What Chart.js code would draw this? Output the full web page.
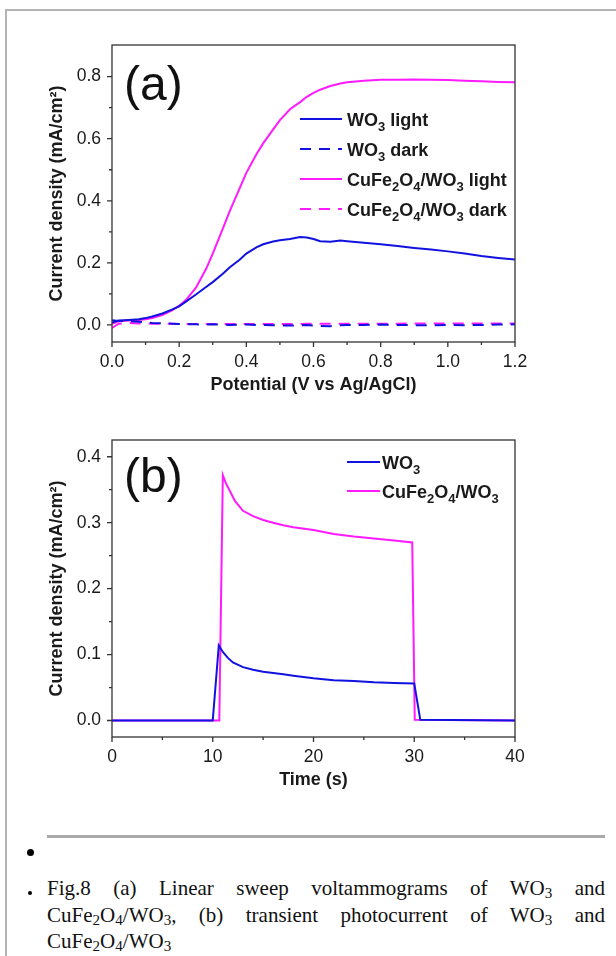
<!DOCTYPE html>
<html>
<head>
<meta charset="utf-8">
<script src="https://cdn.jsdelivr.net/npm/chart.js@4.4.1/dist/chart.umd.min.js"></script>
<style>
html, body { margin: 0; padding: 0; background: #fff; }
body { width: 616px; height: 956px; position: relative; overflow: hidden; }
.frame { position: absolute; left: 5px; top: 9px; width: 700px; height: 1000px;
         border-top: 2px solid #b4b4b4; border-left: 2px solid #b4b4b4; }
#boxA { position: absolute; left: 0; top: 0; }
#boxB { position: absolute; left: 0; top: 410px; }
.rule { position: absolute; left: 47px; top: 835px; width: 558px; height: 3px; background: #a9a9a9; }
.dot { position: absolute; border-radius: 50%; background: #000; }
.cap { position: absolute; left: 47px; width: 558px; top: 875px;
       font-family: "Liberation Serif", "Times New Roman", serif; font-size: 21px; color: #111; }
.cap div { height: 26.5px; line-height: 26.5px; text-align: justify; text-align-last: justify; }
.cap div.last { text-align-last: left; }
.cap sub { font-size: 0.72em; vertical-align: baseline; position: relative; top: 0.22em; }
</style>
</head>
<body>
<div class="frame"></div>
<canvas id="boxA" width="616" height="410"></canvas>
<canvas id="boxB" width="616" height="395"></canvas>
<div class="rule"></div>
<div class="dot" style="left:27px;top:849px;width:7px;height:7px"></div>
<div class="dot" style="left:28px;top:891px;width:4px;height:4px"></div>
<div class="cap">
  <div>Fig.8 (a) Linear sweep voltammograms of WO<sub>3</sub> and</div>
  <div>CuFe<sub>2</sub>O<sub>4</sub>/WO<sub>3</sub>, (b) transient photocurrent of WO<sub>3</sub> and</div>
  <div class="last">CuFe<sub>2</sub>O<sub>4</sub>/WO<sub>3</sub></div>
</div>
<script>
// (a) linear sweep voltammograms
var potential = [0, 0.02, 0.05, 0.08, 0.1, 0.12, 0.15, 0.18, 0.2, 0.22, 0.25, 0.28, 0.3, 0.33, 0.35,
  0.38, 0.4, 0.43, 0.45, 0.48, 0.5, 0.53, 0.56, 0.58, 0.6, 0.62, 0.65, 0.68, 0.7, 0.75, 0.8,
  0.85, 0.9, 0.95, 1.0, 1.05, 1.1, 1.15, 1.2];
var wo3Light = [0.008, 0.014, 0.016, 0.018, 0.022, 0.027, 0.037, 0.05, 0.06, 0.075, 0.098, 0.122, 0.138,
  0.165, 0.185, 0.21, 0.23, 0.25, 0.26, 0.269, 0.273, 0.277, 0.283, 0.282, 0.277, 0.27, 0.268,
  0.272, 0.27, 0.265, 0.26, 0.254, 0.248, 0.243, 0.237, 0.23, 0.222, 0.216, 0.211];
var wo3Dark = [0.015, 0.013, 0.012, 0.01, 0.008, 0.006, 0.005, 0.004, 0.003, 0.002, 0.002, 0.001, 0.002,
  0.001, 0.0, 0.001, 0.001, 0.0, 0.0, -0.001, -0.002, -0.002, -0.001, 0.0, -0.002, -0.003, -0.004,
  -0.001, 0.0, 0.0, 0.001, 0.0, -0.001, -0.001, 0.0, -0.001, 0.0, 0.001, 0.002];
var cuLight = [0.004, 0.012, 0.014, 0.016, 0.018, 0.022, 0.032, 0.048, 0.062, 0.08, 0.12, 0.18, 0.23,
  0.31, 0.365, 0.44, 0.49, 0.55, 0.585, 0.63, 0.66, 0.695, 0.718, 0.735, 0.748, 0.758, 0.77,
  0.778, 0.782, 0.787, 0.79, 0.79, 0.791, 0.79, 0.789, 0.787, 0.785, 0.783, 0.782];
var cuDark = [-0.01, 0.004, 0.006, 0.005, 0.005, 0.004, 0.004, 0.004, 0.003, 0.003, 0.003, 0.003, 0.003,
  0.003, 0.003, 0.003, 0.003, 0.003, 0.003, 0.003, 0.003, 0.003, 0.003, 0.004, 0.004, 0.004, 0.004,
  0.004, 0.004, 0.004, 0.004, 0.004, 0.005, 0.005, 0.005, 0.005, 0.005, 0.005, 0.005];
var ticksAX = [0, 0.2, 0.4, 0.6, 0.8, 1.0, 1.2];
var ticksAY = [0, 0.2, 0.4, 0.6, 0.8];

// (b) transient photocurrent
var timeWO3 = [0, 10, 10.6, 11, 11.5, 12, 13, 14, 15, 16, 17, 18, 20, 22, 24, 26, 28, 30, 30.6, 40];
var currWO3 = [0, 0, 0.114, 0.104, 0.095, 0.088, 0.081, 0.077, 0.074, 0.072, 0.07, 0.068, 0.064,
  0.061, 0.06, 0.058, 0.057, 0.056, 0.001, 0];
var timeCu = [0, 10.65, 11, 11.3, 11.7, 12.2, 13, 14, 15, 16, 17, 18, 20, 22, 24, 26, 28, 29.8, 30.05, 40];
var currCu = [0, 0, 0.372, 0.36, 0.348, 0.333, 0.318, 0.31, 0.304, 0.3, 0.296, 0.293, 0.289, 0.283,
  0.279, 0.276, 0.273, 0.27, 0.001, 0];
var ticksBX = [0, 10, 20, 30, 40];
var ticksBY = [0, 0.1, 0.2, 0.3, 0.4];

var BLUE = '#1212e0';
var MAGENTA = '#ff1aff';
var INK = '#1a1a1a';
var SANS = '"Liberation Sans", Arial, sans-serif';

function pairs(xs, ys) {
  return xs.map(function (x, i) { return { x: x, y: ys[i] }; });
}

function mids(arr) {
  var out = [];
  for (var i = 0; i < arr.length - 1; i++) out.push((arr[i] + arr[i + 1]) / 2);
  return out;
}

var SUBS = '₀₁₂₃₄₅₆₇₈₉';
function drawRich(ctx, text, x, y, size) {
  for (var i = 0; i < text.length; i++) {
    var ch = text[i];
    var k = SUBS.indexOf(ch);
    if (k >= 0) {
      ctx.font = 'bold ' + Math.round(size * 0.72) + 'px ' + SANS;
      ctx.fillText(String(k), x, y + size * 0.3);
      x += ctx.measureText(String(k)).width;
    } else {
      ctx.font = 'bold ' + size + 'px ' + SANS;
      ctx.fillText(ch, x, y);
      x += ctx.measureText(ch).width;
    }
  }
}

// frame box, major + minor ticks, panel letter and legend
var decor = {
  id: 'decor',
  afterDraw: function (chart, args, o) {
    var ctx = chart.ctx, a = chart.chartArea, sx = chart.scales.x, sy = chart.scales.y;
    ctx.save();
    ctx.strokeStyle = '#333';
    ctx.lineWidth = 1.3;
    ctx.strokeRect(a.left, a.top, a.right - a.left, a.bottom - a.top);
    ctx.beginPath();
    o.xMajor.forEach(function (v) { var p = sx.getPixelForValue(v); ctx.moveTo(p, a.bottom); ctx.lineTo(p, a.bottom + 5); });
    mids(o.xMajor).forEach(function (v) { var p = sx.getPixelForValue(v); ctx.moveTo(p, a.bottom); ctx.lineTo(p, a.bottom + 3); });
    o.yMajor.forEach(function (v) { var p = sy.getPixelForValue(v); ctx.moveTo(a.left, p); ctx.lineTo(a.left - 5, p); });
    mids(o.yMajor).forEach(function (v) { var p = sy.getPixelForValue(v); ctx.moveTo(a.left, p); ctx.lineTo(a.left - 3, p); });
    ctx.stroke();

    ctx.fillStyle = '#111';
    ctx.font = '48px ' + SANS;
    ctx.textBaseline = 'alphabetic';
    ctx.textAlign = 'left';
    ctx.fillText(o.letter, o.letterX, o.letterY);

    var lg = o.legend;
    chart.data.datasets.forEach(function (ds, i) {
      var y = lg.y + i * lg.dy;
      ctx.beginPath();
      ctx.strokeStyle = ds.borderColor;
      ctx.lineWidth = 2;
      ctx.setLineDash(ds.borderDash || []);
      ctx.moveTo(lg.x0, y);
      ctx.lineTo(lg.x1, y);
      ctx.stroke();
      ctx.setLineDash([]);
      ctx.fillStyle = INK;
      drawRich(ctx, ds.label, lg.tx, y + 6.5, 18);
    });
    ctx.restore();
  }
};

function axes(xr, yr, xTicks, yTicks, xTitle, xDigits) {
  return {
    x: {
      type: 'linear', min: xr[0], max: xr[1],
      afterBuildTicks: function (s) { s.ticks = xTicks.map(function (v) { return { value: v }; }); },
      afterFit: function (s) { s.height = 68; },
      grid: { display: false, drawTicks: false },
      border: { display: false },
      ticks: { padding: 10, color: INK, font: { family: SANS, size: 17.5 },
               callback: function (v) { return Number(v).toFixed(xDigits); } },
      title: { display: true, text: xTitle, color: INK, padding: { top: 0, bottom: 14 },
               font: { family: SANS, size: 18, weight: 'bold' } }
    },
    y: {
      type: 'linear', min: yr[0], max: yr[1],
      afterBuildTicks: function (s) { s.ticks = yTicks.map(function (v) { return { value: v }; }); },
      afterFit: function (s) { s.width = 112; },
      grid: { display: false, drawTicks: false },
      border: { display: false },
      ticks: { padding: 11, color: INK, font: { family: SANS, size: 17.5 },
               callback: function (v) { return Number(v).toFixed(1); } },
      title: { display: true, text: 'Current density (mA/cm²)', color: INK, padding: { top: 46, bottom: 0 },
               font: { family: SANS, size: 18, weight: 'bold' } }
    }
  };
}

var chartA = new Chart(document.getElementById('boxA'), {
  type: 'line',
  data: {
    datasets: [
      { label: 'WO₃ light', data: pairs(potential, wo3Light), borderColor: BLUE },
      { label: 'WO₃ dark', data: pairs(potential, wo3Dark), borderColor: BLUE, borderDash: [11, 8] },
      { label: 'CuFe₂O₄/WO₃ light', data: pairs(potential, cuLight), borderColor: MAGENTA },
      { label: 'CuFe₂O₄/WO₃ dark', data: pairs(potential, cuDark), borderColor: MAGENTA, borderDash: [11, 8] }
    ]
  },
  options: {
    responsive: false,
    animation: false,
    layout: { padding: { left: 0, top: 45, right: 101, bottom: 0 } },
    elements: { point: { radius: 0 }, line: { borderWidth: 2, tension: 0 } },
    plugins: {
      legend: { display: false },
      tooltip: { enabled: false },
      decor: { xMajor: ticksAX, yMajor: ticksAY, letter: '(a)', letterX: 124, letterY: 100,
               legend: { x0: 300, x1: 342, tx: 347, y: 119, dy: 30 } }
    },
    scales: axes([0, 1.2], [-0.055, 0.902], ticksAX, ticksAY, 'Potential (V vs Ag/AgCl)', 1)
  },
  plugins: [decor]
});

var chartB = new Chart(document.getElementById('boxB'), {
  type: 'line',
  data: {
    datasets: [
      { label: 'WO₃', data: pairs(timeWO3, currWO3), borderColor: BLUE },
      { label: 'CuFe₂O₄/WO₃', data: pairs(timeCu, currCu), borderColor: MAGENTA }
    ]
  },
  options: {
    responsive: false,
    animation: false,
    layout: { padding: { left: 0, top: 30, right: 101, bottom: 0 } },
    elements: { point: { radius: 0 }, line: { borderWidth: 2, tension: 0 } },
    plugins: {
      legend: { display: false },
      tooltip: { enabled: false },
      decor: { xMajor: ticksBX, yMajor: ticksBY, letter: '(b)', letterX: 124, letterY: 82,
               legend: { x0: 347, x1: 380, tx: 382, y: 52, dy: 29 } }
    },
    scales: axes([0, 40], [-0.025, 0.4254], ticksBX, ticksBY, 'Time (s)', 0)
  },
  plugins: [decor]
});
</script>
</body>
</html>
